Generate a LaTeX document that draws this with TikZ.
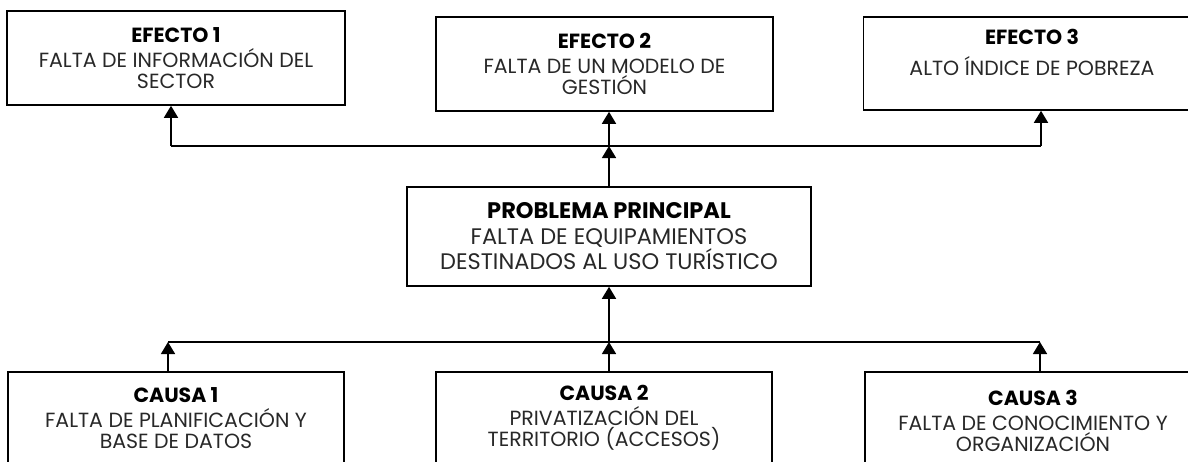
\documentclass[tikz,border=0pt]{standalone}
\usepackage{fontspec}
\setmainfont{Poppins}
\usetikzlibrary{arrows.meta}
\definecolor{bodytext}{RGB}{40,40,40}
\begin{document}
\begin{tikzpicture}[x=1pt,y=-1pt,
  box/.style={draw=black, line width=1.6pt, align=center, inner sep=0pt,
    font=\fontsize{20.5}{21}\selectfont, text=bodytext},
  bigbox/.style={box, font=\fontsize{22.5}{25.5}\selectfont},
  conn/.style={line width=1.6pt},
  arr/.style={conn, -{Triangle[width=14pt,length=12pt]}}]
\useasboundingbox (0,0) rectangle (1188,461);
\clip (0,0) rectangle (1188,461);
\fill[white] (0,0) rectangle (1188,461);

\node[box, minimum width=338pt, minimum height=94pt] (e1) at (176,58)
  {\textcolor{black}{\bfseries EFECTO 1}\\[4pt]FALTA DE INFORMACIÓN DEL\\SECTOR};
\node[box, minimum width=337pt, minimum height=94pt] (e2) at (604.5,64)
  {\textcolor{black}{\bfseries EFECTO 2}\\[4pt]FALTA DE UN MODELO DE\\GESTIÓN};
\node[box, minimum width=337pt, minimum height=93pt] (e3) at (1032,63.5)
  {\textcolor{black}{\bfseries EFECTO 3}\\[10pt]ALTO ÍNDICE DE POBREZA\\[-4pt]\strut};

\node[bigbox, minimum width=404pt, minimum height=99pt] (p) at (609,236.5)
  {\textcolor{black}{\bfseries PROBLEMA PRINCIPAL}\\FALTA DE EQUIPAMIENTOS\\DESTINADOS AL USO TURÍSTICO};

\node[box, minimum width=336pt, minimum height=92pt] (c1) at (176,418)
  {\textcolor{black}{\bfseries CAUSA 1}\\[4pt]FALTA DE PLANIFICACIÓN Y\\BASE DE DATOS};
\node[box, minimum width=336pt, minimum height=92pt] (c2) at (604,418)
  {\textcolor{black}{\bfseries CAUSA 2}\\[4pt]PRIVATIZACIÓN DEL\\TERRITORIO (ACCESOS)};
\node[box, minimum width=336pt, minimum height=98pt] (c3) at (1033,421)
  {\textcolor{black}{\bfseries CAUSA 3}\\[4pt]FALTA DE CONOCIMIENTO Y\\ORGANIZACIÓN};

\coordinate (tj) at (609,146);
\coordinate (tl) at (171,146);
\coordinate (tr) at (1041,146);
\coordinate (bj) at (609,342);
\coordinate (bl) at (168,342);
\coordinate (br) at (1040,342);

% top distribution
\draw[conn] (tl) -- (tr);
\draw[arr] (tl) -- (tl |- e1.south);
\draw[arr] (tr) -- (tr |- e3.south);
\draw[arr] (tj) -- (tj |- e2.south);
\draw[arr] (p.north -| tj) -- (tj);

% bottom collection
\draw[conn] (bl) -- (br);
\draw[arr] (bl |- c1.north) -- (bl);
\draw[arr] (bj |- c2.north) -- (bj);
\draw[arr] (br |- c3.north) -- (br);
\draw[arr] (bj) -- (bj |- p.south);
\end{tikzpicture}
\end{document}
